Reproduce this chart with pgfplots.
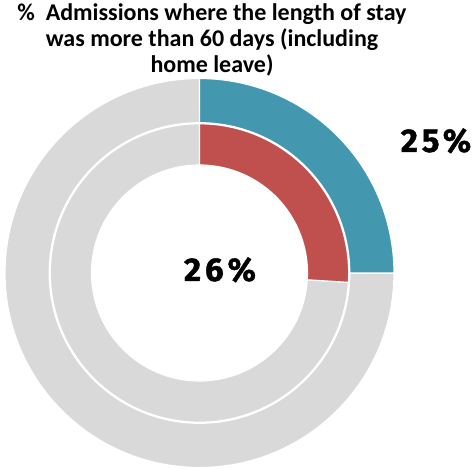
\documentclass[border=0pt]{standalone}
\usepackage{pgfplots}
\usepackage{pgfplotstable}
\pgfplotsset{compat=1.18}
\usepackage{fontspec}
\setmainfont{Carlito}
\newfontfamily\numfont[LetterSpace=12, BoldFeatures={FakeBold=1.2}]{Fira Sans}
\definecolor{tealc}{HTML}{4398B0}
\definecolor{redc}{HTML}{C0504D}
\definecolor{grayc}{HTML}{D9D9D9}

\pgfplotstableread{
ring value
outer 25
inner 26
}\donutdata
\pgfplotstablegetelem{0}{value}\of\donutdata
\edef\outerval{\pgfplotsretval}
\pgfplotstablegetelem{1}{value}\of\donutdata
\edef\innerval{\pgfplotsretval}
\pgfmathsetmacro{\outerend}{90-3.6*\outerval}
\pgfmathsetmacro{\innerend}{90-3.6*\innerval}

% annular sector: #1 style, #2 start angle, #3 end angle, #4 inner r, #5 outer r
\newcommand{\sector}[5]{%
  \filldraw[#1, draw=white, line width=1.2pt]
    ([shift={(#2:#5 pt)}]C) arc[start angle=#2, end angle=#3, radius=#5 pt]
    -- ([shift={(#3:#4 pt)}]C) arc[start angle=#3, end angle=#2, radius=#4 pt] -- cycle;}

\begin{document}
\begin{tikzpicture}
\begin{axis}[
  x=1pt, y=1pt, scale only axis,
  xmin=-199.5, xmax=275.5, ymin=-195, ymax=273,
  hide axis, clip=false]
\addplot[draw=none, forget plot] coordinates {(-199.5,-195) (275.5,273)};
\coordinate (C) at (axis cs:0,0);
% outer ring
\sector{fill=grayc}{\outerend}{-270}{150.3}{194.5}
\sector{fill=tealc}{90}{\outerend}{150.3}{194.5}
% inner ring
\sector{fill=grayc}{\innerend}{-270}{108}{149.2}
\sector{fill=redc}{90}{\innerend}{108}{149.2}
% title
\node[anchor=north, align=center, inner sep=0pt, font=\fontsize{24}{26}\selectfont\bfseries]
  at (axis cs:12.5,270) {\%\ \ Admissions where the length of stay\\was more than 60 days (including\\home leave)};
% labels
\node[anchor=base, inner sep=0pt, font=\numfont\fontsize{33}{33}\selectfont\bfseries]
  at (axis cs:236.5,121) {\outerval\%};
\node[anchor=base, inner sep=0pt, font=\numfont\fontsize{33}{33}\selectfont\bfseries]
  at (axis cs:20.5,-8) {\innerval\%};
\end{axis}
\end{tikzpicture}
\end{document}
